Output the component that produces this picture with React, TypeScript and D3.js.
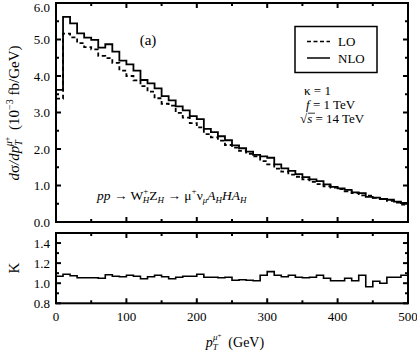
import React from "react";
import * as d3 from "d3";

// ---- data (10 GeV bins from 0 to 500 GeV) ----
const binStarts: number[] = d3.range(0, 500, 10);
const nloValues: number[] = [
  3.62, 5.62, 5.44, 5.17, 5.05, 4.99, 4.78, 4.87, 4.67, 4.42,
  4.32, 4.15, 3.89, 3.80, 3.66, 3.45, 3.33, 3.17, 3.06, 2.90,
  2.82, 2.55, 2.46, 2.35, 2.24, 2.10, 2.02, 1.93, 1.84, 1.80,
  1.76, 1.58, 1.47, 1.40, 1.31, 1.23, 1.17, 1.12, 1.03, 0.96,
  0.92, 0.88, 0.81, 0.79, 0.69, 0.67, 0.63, 0.61, 0.56, 0.52,
];
const loValues: number[] = [
  3.38, 5.16, 5.06, 4.90, 4.79, 4.73, 4.55, 4.49, 4.36, 4.15,
  4.00, 3.88, 3.72, 3.57, 3.39, 3.24, 3.19, 2.99, 2.86, 2.71,
  2.59, 2.41, 2.32, 2.23, 2.11, 2.04, 1.95, 1.87, 1.80, 1.67,
  1.58, 1.46, 1.38, 1.30, 1.24, 1.17, 1.10, 1.04, 0.98, 0.94,
  0.90, 0.84, 0.79, 0.73, 0.72, 0.66, 0.63, 0.58, 0.53, 0.48,
];
const kValues: number[] = [
  1.07, 1.09, 1.075, 1.055, 1.055, 1.055, 1.05, 1.085, 1.07, 1.065,
  1.08, 1.07, 1.045, 1.065, 1.08, 1.065, 1.045, 1.06, 1.07, 1.07,
  1.09, 1.06, 1.06, 1.055, 1.06, 1.03, 1.035, 1.03, 1.025, 1.08,
  1.115, 1.08, 1.065, 1.08, 1.06, 1.055, 1.06, 1.08, 1.05, 1.025,
  1.025, 1.05, 1.025, 1.08, 0.965, 1.02, 1.0, 1.06, 1.06, 1.08,
];
const xTickValues: number[] = [0, 100, 200, 300, 400, 500];
const yTopTickValues: number[] = [0, 1, 2, 3, 4, 5, 6];
const yKTickValues: number[] = [0.8, 1.0, 1.2, 1.4];
const legendLabels: string[] = ["LO", "NLO"];

const FONT = "'Liberation Serif', 'Times New Roman', serif";

export default function App() {
  const x = d3.scaleLinear().domain([0, 500]).range([56, 408]);
  const yTop = d3.scaleLinear().domain([0, 6]).range([222, 3]);
  const yK = d3.scaleLinear().domain([0.8, 1.5]).range([303.3, 233]);

  const histPts = (vals: number[]) => {
    const pts: [number, number][] = binStarts.map((b, i) => [b, vals[i]]);
    pts.push([500, vals[vals.length - 1]]);
    return pts;
  };
  const lineTop = d3
    .line<[number, number]>()
    .x((d) => x(d[0]))
    .y((d) => yTop(d[1]))
    .curve(d3.curveStepAfter);
  const lineK = d3
    .line<[number, number]>()
    .x((d) => x(d[0]))
    .y((d) => yK(d[1]))
    .curve(d3.curveStepAfter);

  const xMinor = d3.range(0, 501, 50);
  const yTopMinor = d3.range(0, 6.01, 0.5);
  const yKMinor = d3.range(0.8, 1.501, 0.1);

  const panelTicks = (
    yScale: d3.ScaleLinear<number, number>,
    yMinor: number[],
    isMajorY: (v: number) => boolean,
    key: string
  ) => {
    const [y0, y1] = yScale.range();
    const els: React.ReactNode[] = [];
    xMinor.forEach((v, i) => {
      const len = v % 100 === 0 ? 5 : 3;
      const xx = x(v);
      els.push(<line key={`${key}xb${i}`} x1={xx} x2={xx} y1={y0} y2={y0 - len} />);
      els.push(<line key={`${key}xt${i}`} x1={xx} x2={xx} y1={y1} y2={y1 + len} />);
    });
    yMinor.forEach((v, i) => {
      const len = isMajorY(v) ? 5 : 3;
      const yy = yScale(v);
      els.push(<line key={`${key}yl${i}`} x1={56} x2={56 + len} y1={yy} y2={yy} />);
      els.push(<line key={`${key}yr${i}`} x1={408} x2={408 - len} y1={yy} y2={yy} />);
    });
    return els;
  };

  return (
    <div style={{ position: "fixed", left: 0, top: 0 }}>
      <svg width={417} height={352} style={{ display: "block", background: "#fff" }} fontFamily={FONT}>
        {/* histograms top */}
        <path d={lineTop(histPts(nloValues)) || ""} fill="none" stroke="#000" strokeWidth={1.8} />
        <path
          d={lineTop(histPts(loValues)) || ""}
          fill="none"
          stroke="#000"
          strokeWidth={1.8}
          strokeDasharray="4,3"
        />
        {/* K histogram */}
        <path d={lineK(histPts(kValues)) || ""} fill="none" stroke="#000" strokeWidth={1.6} />

        {/* frames */}
        <rect x={56} y={yTop(6)} width={352} height={yTop(0) - yTop(6)} fill="none" stroke="#000" strokeWidth={2} />
        <rect x={56} y={yK(1.5)} width={352} height={yK(0.8) - yK(1.5)} fill="none" stroke="#000" strokeWidth={2} />

        <g stroke="#000" strokeWidth={2}>
          {panelTicks(yTop, yTopMinor, (v) => Math.abs(v - Math.round(v)) < 1e-6, "t")}
          {panelTicks(yK, yKMinor, (v) => Math.abs(v * 5 - Math.round(v * 5)) < 1e-6, "k")}
        </g>

        {/* tick labels */}
        <g fontSize={13} fill="#000">
          {yTopTickValues.map((v) => (
            <text key={`yt${v}`} x={50} y={Math.max(yTop(v), 7.5)} textAnchor="end" dominantBaseline="central">
              {v.toFixed(1)}
            </text>
          ))}
          {yKTickValues.map((v) => (
            <text key={`yk${v}`} x={50} y={yK(v)} textAnchor="end" dominantBaseline="central">
              {v.toFixed(1)}
            </text>
          ))}
          {xTickValues.map((v) => (
            <text key={`xl${v}`} x={x(v)} y={321} textAnchor="middle">
              {v}
            </text>
          ))}
        </g>

        {/* axis titles */}
        <text transform="translate(19,113) rotate(-90)" textAnchor="middle" fontSize={15} fill="#000">
          <tspan fontStyle="italic">d</tspan>
          <tspan>σ</tspan>
          <tspan fontStyle="italic">{"/dp"}</tspan>
          <tspan fontStyle="italic" fontSize={10} dy={3}>T</tspan>
          <tspan fontStyle="italic" fontSize={10} dx={-6} dy={-10}>μ</tspan>
          <tspan fontSize={8} dy={-2}>+</tspan>
          <tspan dy={9} dx={3}>{"\u00a0(10"}</tspan>
          <tspan fontSize={10} dy={-6}>−3</tspan>
          <tspan dy={6}>{"\u00a0fb/GeV)"}</tspan>
        </text>
        <text transform="translate(19,268) rotate(-90)" textAnchor="middle" fontSize={15} fill="#000">
          K
        </text>
        <text x={235} y={347} textAnchor="middle" fontSize={14} fill="#000">
          <tspan fontStyle="italic">p</tspan>
          <tspan fontStyle="italic" fontSize={9} dy={3}>T</tspan>
          <tspan fontStyle="italic" fontSize={9} dx={-5} dy={-10}>μ</tspan>
          <tspan fontSize={7} dy={-2}>+</tspan>
          <tspan dy={9}>{"\u00a0 (GeV)"}</tspan>
        </text>

        {/* (a) */}
        <text x={148} y={45} textAnchor="middle" fontSize={15} fill="#000">
          (a)
        </text>

        {/* legend */}
        <rect x={295} y={26.5} width={82} height={46} fill="#fff" stroke="#000" strokeWidth={1.5} />
        {legendLabels.map((lab, i) => (
          <g key={lab}>
            <line
              x1={307}
              x2={330}
              y1={41.5 + i * 16.5}
              y2={41.5 + i * 16.5}
              stroke="#000"
              strokeWidth={1.5}
              strokeDasharray={i === 0 ? "4,2.5" : undefined}
            />
            <text x={338} y={41.5 + i * 16.5} dominantBaseline="central" fontSize={13} fill="#000">
              {lab}
            </text>
          </g>
        ))}

        {/* parameters */}
        <g fontSize={13} fill="#000">
          <text x={304} y={95}>κ = 1</text>
          <text x={306} y={109}>
            <tspan fontStyle="italic">f</tspan> = 1 TeV
          </text>
          <text x={300} y={123}>
            √<tspan fontStyle="italic">s</tspan> = 14 TeV
          </text>
          <line x1={308} x2={315} y1={113.2} y2={113.2} stroke="#000" strokeWidth={0.8} />
        </g>

        {/* process */}
        <text x={97} y={200} fontSize={13.5} fill="#000">
          <tspan fontStyle="italic">pp</tspan>
          <tspan>{" → W"}</tspan>
          <tspan fontSize={9} dy={-6}>+</tspan>
          <tspan fontSize={9} fontStyle="italic" dx={-5.5} dy={9}>H</tspan>
          <tspan dy={-3}>Z</tspan>
          <tspan fontSize={9} fontStyle="italic" dy={3}>H</tspan>
          <tspan dy={-3}>{" → μ"}</tspan>
          <tspan fontSize={9} dy={-6}>+</tspan>
          <tspan dy={6}>ν</tspan>
          <tspan fontSize={9} fontStyle="italic" dy={3}>μ</tspan>
          <tspan fontStyle="italic" dy={-3}>A</tspan>
          <tspan fontSize={9} fontStyle="italic" dy={3}>H</tspan>
          <tspan fontStyle="italic" dy={-3}>HA</tspan>
          <tspan fontSize={9} fontStyle="italic" dy={3}>H</tspan>
        </text>
      </svg>
    </div>
  );
}
